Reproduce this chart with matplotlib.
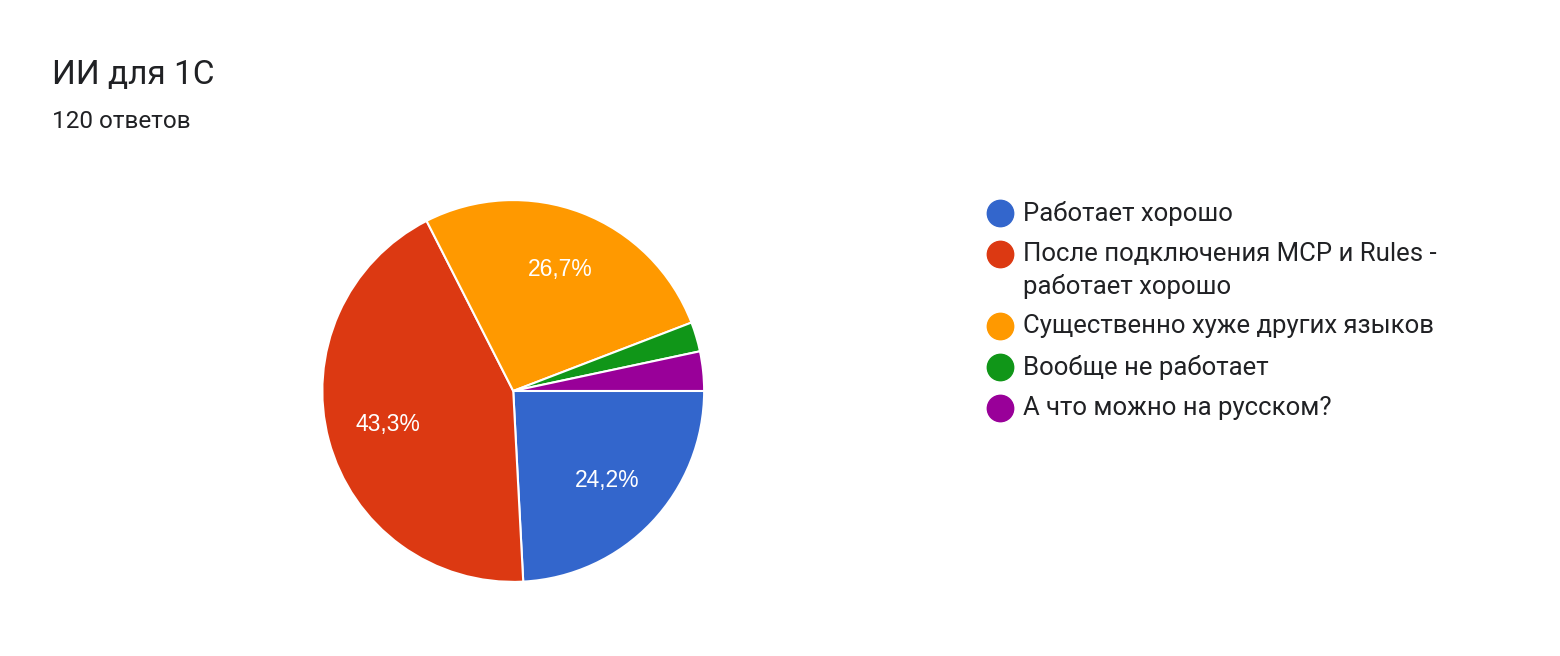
import matplotlib
matplotlib.use("Agg")
import matplotlib.pyplot as plt
from matplotlib.lines import Line2D

plt.rcParams['font.family'] = ['Roboto', 'DejaVu Sans']

categories = ["Работает хорошо",
              "После подключения MCP и Rules -\nработает хорошо",
              "Существенно хуже других языков",
              "Вообще не работает",
              "А что можно на русском?"]
counts = [29, 52, 32, 3, 4]
colors = ["#3366cc", "#dc3912", "#ff9900", "#109618", "#990099"]

W, H = 1560, 656
fig = plt.figure(figsize=(15.6, 6.56), dpi=100)
ax = fig.add_axes([0.329 - 0.1225, 0.404 - 0.291, 0.245, 0.582])

def fmt(p):
    return ("%.1f%%" % p).replace(".", ",") if p >= 5 else ""

ax.pie(counts, colors=colors, startangle=0, counterclock=False,
       autopct=fmt, pctdistance=0.68,
       wedgeprops=dict(edgecolor="white", linewidth=1.5),
       textprops=dict(color="white", fontsize=16.5, family=["Liberation Sans", "DejaVu Sans"]))
ax.set_xlim(-1, 1); ax.set_ylim(-1, 1); ax.set_aspect("equal")

fig.text(52/W, 1 - 75/H, "ИИ для 1С", fontsize=24, color="#202124", va="center")
fig.text(52/W, 1 - 121/H, "120 ответов", fontsize=17.5, color="#202124", va="center")

y = 213
for lab, c in zip(categories, colors):
    fig.add_artist(Line2D([1000/W], [1 - y/H], marker="o", markersize=19,
                          markerfacecolor=c, markeredgecolor=c, transform=fig.transFigure))
    fig.text(1023/W, 1 - (y - 12)/H, lab, fontsize=18.5, color="#202124",
             va="top", linespacing=1.42)
    y += 41 + 31 * lab.count("\n")

fig.savefig("out.png", dpi=100, facecolor="white")
